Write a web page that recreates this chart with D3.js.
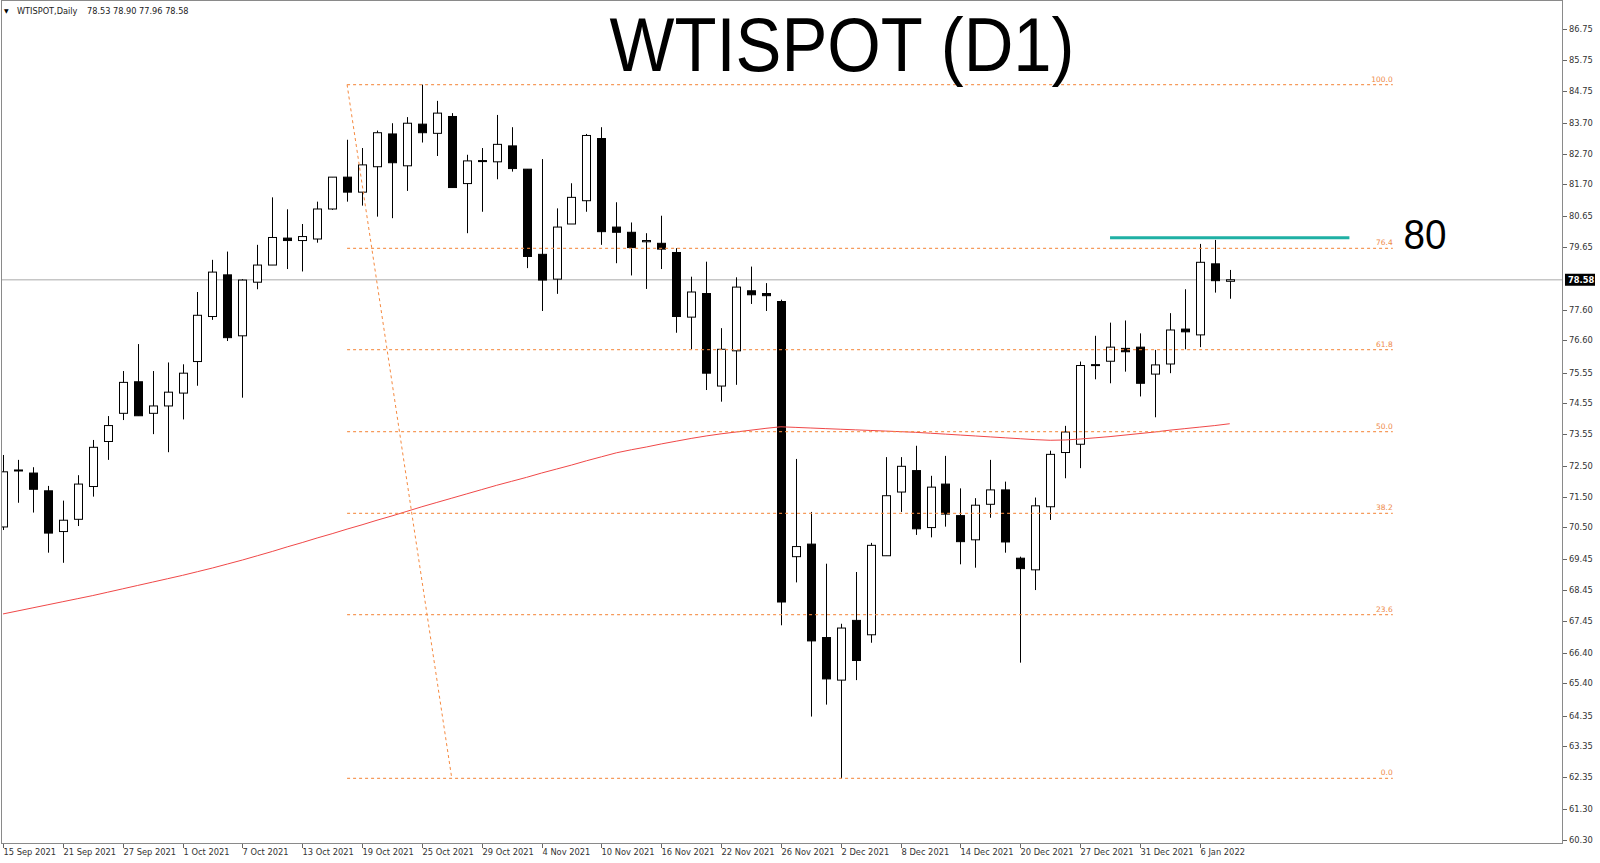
<!DOCTYPE html>
<html><head><meta charset="utf-8">
<script src="https://cdn.jsdelivr.net/npm/d3@7"></script>
<style>html,body{margin:0;padding:0;background:#fff;}svg{display:block;}</style>
</head><body>
<svg id="chart" width="1600" height="863"></svg>
<script>
const dates = ["15 Sep 2021","16 Sep 2021","17 Sep 2021","20 Sep 2021","21 Sep 2021","22 Sep 2021","23 Sep 2021","24 Sep 2021","27 Sep 2021","28 Sep 2021","29 Sep 2021","30 Sep 2021",
"1 Oct 2021","4 Oct 2021","5 Oct 2021","6 Oct 2021","7 Oct 2021","8 Oct 2021","11 Oct 2021","12 Oct 2021","13 Oct 2021","14 Oct 2021","15 Oct 2021","18 Oct 2021","19 Oct 2021","20 Oct 2021","21 Oct 2021","22 Oct 2021","25 Oct 2021","26 Oct 2021","27 Oct 2021","28 Oct 2021","29 Oct 2021",
"1 Nov 2021","2 Nov 2021","3 Nov 2021","4 Nov 2021","5 Nov 2021","8 Nov 2021","9 Nov 2021","10 Nov 2021","11 Nov 2021","12 Nov 2021","15 Nov 2021","16 Nov 2021","17 Nov 2021","18 Nov 2021","19 Nov 2021","22 Nov 2021","23 Nov 2021","24 Nov 2021","25 Nov 2021","26 Nov 2021","29 Nov 2021","30 Nov 2021",
"1 Dec 2021","2 Dec 2021","3 Dec 2021","6 Dec 2021","7 Dec 2021","8 Dec 2021","9 Dec 2021","10 Dec 2021","13 Dec 2021","14 Dec 2021","15 Dec 2021","16 Dec 2021","17 Dec 2021","20 Dec 2021","21 Dec 2021","22 Dec 2021","23 Dec 2021","27 Dec 2021","28 Dec 2021","29 Dec 2021","30 Dec 2021","31 Dec 2021",
"3 Jan 2022","4 Jan 2022","5 Jan 2022","6 Jan 2022","7 Jan 2022","10 Jan 2022"];

const openV = [70.51,72.37,72.27,71.69,70.36,70.76,71.83,73.30,74.22,75.25,74.22,74.46,74.88,75.91,77.38,78.74,76.75,78.50,79.06,79.94,79.86,79.91,80.89,81.93,81.44,82.27,83.34,82.30,83.66,83.36,83.91,81.72,82.47,82.43,82.95,82.19,79.41,78.60,80.40,81.16,83.19,80.30,80.13,79.82,79.77,79.47,77.36,78.13,75.11,76.26,78.22,78.13,77.87,69.54,69.95,66.90,65.51,67.46,66.99,69.57,71.65,72.35,70.49,71.91,70.88,70.09,71.25,71.72,69.49,69.11,71.17,72.94,73.21,75.79,75.92,76.34,76.38,75.50,75.83,76.97,76.78,79.10,78.53];
const highV = [72.86,72.70,72.46,71.85,71.37,72.20,73.35,74.13,75.60,76.48,75.60,75.88,75.82,78.18,79.23,79.50,78.60,79.72,81.27,80.88,80.40,81.13,81.93,83.15,82.88,83.45,83.69,83.89,84.95,84.42,84.02,82.66,82.88,83.96,83.56,82.19,82.52,80.91,81.73,83.34,83.56,81.11,80.45,80.10,80.67,79.61,78.68,79.17,77.00,78.66,79.01,78.47,77.93,72.73,71.00,69.31,67.35,69.04,69.99,72.79,72.79,73.16,72.18,72.83,71.77,71.45,72.70,71.99,69.54,71.47,73.00,73.81,75.91,76.75,77.18,77.25,76.83,76.29,77.49,78.27,79.75,79.88,78.90];
const lowV = [70.41,71.30,70.98,69.67,69.34,70.54,71.50,72.70,74.00,74.14,73.54,72.95,74.02,75.12,77.27,76.58,74.73,78.27,79.06,78.93,78.85,79.79,80.86,81.13,81.00,80.64,80.59,81.48,83.06,82.62,81.59,80.10,80.80,81.86,82.11,78.96,77.56,78.12,80.40,80.80,79.72,79.12,78.72,78.28,78.93,76.85,76.31,74.98,74.60,75.15,77.79,77.56,67.30,68.70,64.32,64.71,62.30,65.51,66.73,69.57,71.00,70.25,70.17,70.52,69.29,69.18,70.81,69.67,66.08,68.45,70.74,72.10,72.43,75.33,75.20,75.58,74.77,74.09,75.53,76.31,76.38,78.16,77.96];
const closeV = [72.31,72.37,71.74,70.31,70.73,71.91,73.11,73.82,75.23,74.14,74.46,74.91,75.53,77.42,78.83,76.69,78.57,79.06,79.96,79.86,79.99,80.89,81.93,81.44,82.33,83.38,82.40,83.69,83.38,84.02,81.59,82.46,82.44,83.00,82.21,79.34,78.57,80.30,81.27,83.29,80.15,80.13,79.63,79.86,79.58,77.38,78.18,75.53,76.31,78.34,78.09,78.06,68.06,69.87,66.79,65.55,67.21,66.15,69.91,71.53,72.49,70.45,71.81,70.93,70.03,71.22,71.72,70.02,69.15,71.20,72.88,73.61,75.78,75.81,76.38,76.23,75.20,75.80,76.94,76.88,79.15,78.55,78.58];
const maV = [67.67,67.77,67.87,67.97,68.07,68.17,68.27,68.38,68.49,68.60,68.71,68.82,68.93,69.05,69.17,69.30,69.43,69.57,69.71,69.86,70.00,70.15,70.29,70.44,70.58,70.73,70.87,71.02,71.17,71.31,71.45,71.59,71.73,71.87,72.00,72.13,72.27,72.40,72.53,72.67,72.80,72.93,73.03,73.12,73.22,73.31,73.40,73.48,73.55,73.61,73.67,73.73,73.78,73.76,73.74,73.72,73.70,73.68,73.66,73.64,73.62,73.60,73.57,73.54,73.51,73.48,73.45,73.42,73.39,73.36,73.34,73.35,73.38,73.42,73.46,73.51,73.56,73.61,73.67,73.72,73.77,73.82,73.88];

const priceTicks = [86.75,85.75,84.75,83.70,82.70,81.70,80.65,79.65,77.60,76.60,75.55,74.55,73.55,72.50,71.50,70.50,69.45,68.45,67.45,66.40,65.40,64.35,63.35,62.35,61.30,60.30];
const dateTickEvery = 4;

const fibLevels = [100.0, 76.4, 61.8, 50.0, 38.2, 23.6, 0.0];
const fibHigh = 84.95, fibLow = 62.30;
const fibStartIdx = 23, fibLowIdx = 30, fibEndIdx = 92.9;
const resistance = 79.95, resStartIdx = 74, resEndIdx = 90, resLabel = "80";
const titleText = "WTISPOT (D1)";
const symbolText = "WTISPOT,Daily";

const svg = d3.select("#chart");
const W = 1600, H = 863;
const plot = {left: 2, right: 1563, top: 1, bottom: 844};

const x = d3.scaleLinear().domain([0, 82]).range([3, 3 + 82 * 14.96]);
const y = d3.scaleLinear().domain([60.16, 87.68]).range([plot.bottom, plot.top]);

svg.append("rect").attr("width", W).attr("height", H).attr("fill", "#fff");

svg.append("defs").append("clipPath").attr("id", "pc")
  .append("rect").attr("x", plot.left).attr("y", plot.top)
  .attr("width", plot.right - plot.left).attr("height", plot.bottom - plot.top);

const g = svg.append("g").attr("clip-path", "url(#pc)");

// current price line
const last = closeV.length - 1;
g.append("line").attr("x1", plot.left).attr("x2", plot.right)
  .attr("y1", y(closeV[last])).attr("y2", y(closeV[last]))
  .attr("stroke", "#c6c6c6").attr("stroke-width", 1.5);

// candles
const idx = d3.range(dates.length);
const bw = 9;
const cg = g.append("g");
cg.selectAll("line.wick").data(idx).join("line")
  .attr("x1", i => Math.round(x(i)) + 0.5).attr("x2", i => Math.round(x(i)) + 0.5)
  .attr("y1", i => y(highV[i])).attr("y2", i => y(lowV[i]))
  .attr("stroke", "#000").attr("stroke-width", 1);
cg.selectAll("rect.body").data(idx).join("rect")
  .attr("x", i => Math.round(x(i)) - 4 + 0.5)
  .attr("width", bw - 1)
  .attr("y", i => y(Math.max(openV[i], closeV[i])))
  .attr("height", i => Math.max(1, y(Math.min(openV[i], closeV[i])) - y(Math.max(openV[i], closeV[i]))))
  .attr("fill", i => closeV[i] >= openV[i] ? "#fff" : "#000")
  .attr("stroke", "#000").attr("stroke-width", 1);

// moving average
g.append("path").datum(idx)
  .attr("d", d3.line().x(i => x(i)).y(i => y(maV[i])))
  .attr("fill", "none").attr("stroke", "#f04848").attr("stroke-width", 1);

// fibonacci
const fibColor = "#f5893f";
const fg = g.append("g");
fg.append("line")
  .attr("x1", x(fibStartIdx)).attr("y1", y(fibHigh))
  .attr("x2", x(fibLowIdx)).attr("y2", y(fibLow))
  .attr("stroke", fibColor).attr("stroke-width", 1).attr("stroke-dasharray", "3,3");
fibLevels.forEach(lv => {
  const val = fibLow + (fibHigh - fibLow) * lv / 100;
  fg.append("line").attr("x1", x(fibStartIdx)).attr("x2", x(fibEndIdx))
    .attr("y1", y(val)).attr("y2", y(val))
    .attr("stroke", fibColor).attr("stroke-opacity", 0.85).attr("stroke-width", 1.2).attr("stroke-dasharray", "3,3");
  fg.append("text").attr("x", x(fibEndIdx)).attr("y", y(val) - 3)
    .attr("text-anchor", "end").attr("font-family", "DejaVu Sans").attr("font-size", 7.5)
    .attr("fill", "#ee8a4a").text(lv.toFixed(1));
});

// resistance line
g.append("line").attr("x1", x(resStartIdx)).attr("x2", x(resEndIdx))
  .attr("y1", y(resistance)).attr("y2", y(resistance))
  .attr("stroke", "#1fb0a4").attr("stroke-width", 3);
svg.append("text").attr("x", x(resEndIdx) + 54).attr("y", y(resistance) + 11)
  .attr("font-family", "Liberation Sans, Arial").attr("font-size", 43)
  .attr("textLength", 43).attr("lengthAdjust", "spacingAndGlyphs")
  .attr("fill", "#000").text(resLabel);

// title
svg.append("text").attr("x", 842).attr("y", 71).attr("text-anchor", "middle")
  .attr("font-family", "Liberation Sans, Arial").attr("font-size", 76)
  .attr("textLength", 465).attr("lengthAdjust", "spacingAndGlyphs")
  .attr("fill", "#000").text(titleText);

// frame
svg.append("rect").attr("x", plot.left - 0.5).attr("y", plot.top - 0.5)
  .attr("width", plot.right - plot.left).attr("height", plot.bottom - plot.top)
  .attr("fill", "none").attr("stroke", "#8a8a8a").attr("stroke-width", 1);

// right axis
const ya = svg.append("g");
priceTicks.forEach(t => {
  const yy = Math.round(y(t)) + 0.5;
  ya.append("line").attr("x1", plot.right).attr("x2", plot.right + 4).attr("y1", yy).attr("y2", yy).attr("stroke", "#666");
  ya.append("text").attr("x", plot.right + 6).attr("y", yy).attr("dy", "0.35em")
    .attr("font-family", "DejaVu Sans").attr("font-size", 8.3).attr("fill", "#333").text(t.toFixed(2));
});
// current price box
const cy = y(closeV[last]);
ya.append("rect").attr("x", plot.right + 2).attr("y", cy - 6).attr("width", 30).attr("height", 12).attr("fill", "#000");
ya.append("text").attr("x", plot.right + 5).attr("y", cy).attr("dy", "0.35em")
  .attr("font-family", "DejaVu Sans").attr("font-size", 8.3).attr("font-weight", "bold").attr("fill", "#fff").text(closeV[last].toFixed(2));

// bottom axis
const xa = svg.append("g");
idx.filter(i => i % dateTickEvery === 0).forEach(i => {
  const xx = Math.round(x(i)) + 0.5;
  xa.append("line").attr("x1", xx).attr("x2", xx).attr("y1", plot.bottom).attr("y2", plot.bottom + 4).attr("stroke", "#666");
  xa.append("text").attr("x", xx).attr("y", plot.bottom + 11)
    .attr("font-family", "DejaVu Sans").attr("font-size", 8.3).attr("fill", "#333").text(dates[i]);
});

// header
svg.append("text").attr("x", 4).attr("y", 13).attr("font-family", "DejaVu Sans").attr("font-size", 6).attr("fill", "#000").text("▼");
svg.append("text").attr("x", 17).attr("y", 14).attr("font-family", "DejaVu Sans").attr("font-size", 8.2).attr("fill", "#222").text(symbolText);
svg.append("text").attr("x", 87).attr("y", 14).attr("font-family", "DejaVu Sans").attr("font-size", 8.2).attr("fill", "#222")
  .text([openV[last], highV[last], lowV[last], closeV[last]].map(v => v.toFixed(2)).join(" "));
</script>
</body></html>
